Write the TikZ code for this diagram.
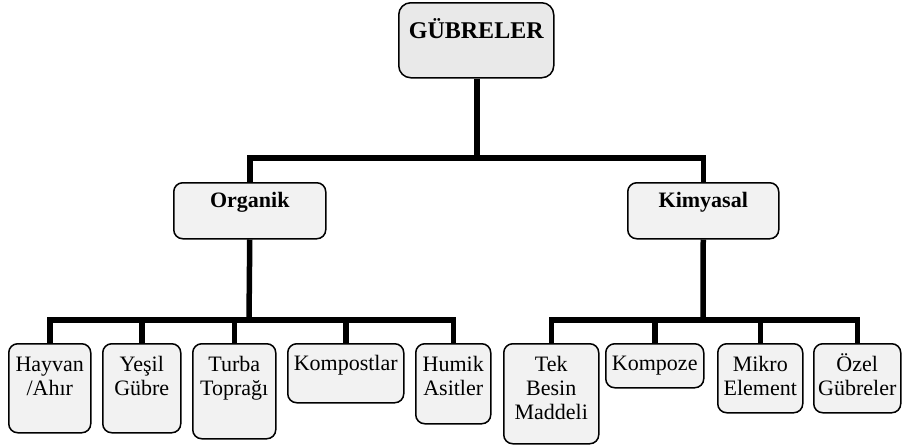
\documentclass[tikz,border=0pt]{standalone}
\usepackage{fontspec}
\setmainfont{Liberation Serif}
\newcommand{\bxtext}[4]{\parbox[c][#2pt][t]{#1pt}{\centering\rule{0pt}{#3pt}#4}}
\tikzset{
  box/.style={draw=black, line width=1.5pt, fill=gray!10, rounded corners=9pt,
    inner sep=0pt, anchor=north west, font=\fontsize{22}{24}\selectfont},
  topbox/.style={box, fill=gray!17, rounded corners=12pt, font=\bfseries\fontsize{24}{26}\selectfont},
  midbox/.style={box, fill=gray!10, font=\bfseries\fontsize{22}{24}\selectfont},
  conn/.style={draw=black, line width=5.5pt, line join=miter}
}
\begin{document}
\begin{tikzpicture}[x=1pt,y=-1pt]
\useasboundingbox (0,0) rectangle (902,445);
% top
\node[topbox] (gub) at (398,2) {\bxtext{155}{75}{36}{GÜBRELER}};
% level 2
\node[midbox] (org) at (173,182) {\bxtext{152}{56}{25}{Organik}};
\node[midbox] (kim) at (627,182) {\bxtext{151}{56}{25}{Kimyasal}};
% organik children
\node[box] (hay) at (8,343) {\bxtext{82}{89}{28}{Hayvan\\/Ahır}};
\node[box] (yes) at (102,343) {\bxtext{78}{89}{28}{Yeşil\\Gübre}};
\node[box] (tur) at (192,343) {\bxtext{83}{95}{28}{Turba\\Toprağı}};
\node[box] (komp) at (287,343) {\bxtext{116}{59}{27}{Kompostlar}};
\node[box] (hum) at (415,343) {\bxtext{75}{80}{28}{Humik\\Asitler}};
% kimyasal children
\node[box] (tek) at (503,343) {\bxtext{95}{100}{28}{Tek\\Besin\\Maddeli}};
\node[box] (kpz) at (605,343) {\bxtext{98}{44}{27}{Kompoze}};
\node[box] (mik) at (717,343) {\bxtext{85}{69}{28}{Mikro\\Element}};
\node[box] (oze) at (813,343) {\bxtext{87}{69}{28}{Özel\\Gübreler}};
% connectors
\coordinate (b1) at (477,158);
\coordinate (b2) at (249,320);
\coordinate (b3) at (703,320);
\draw[conn] (gub.south -| b1) -- (b1);
\draw[conn] (org.north) |- (b1) -| (kim.north);
\draw[conn] (org.south) -- (b2);
\draw[conn] (hay.north) |- (b2) -| (hum.north);
\draw[conn] (yes.north) -- (yes.north |- b2);
\draw[conn] (tur.north) -- (tur.north |- b2);
\draw[conn] (komp.north) -- (komp.north |- b2);
\draw[conn] (kim.south) -- (b3);
\draw[conn] (tek.north) |- (b3) -| (oze.north);
\draw[conn] (kpz.north) -- (kpz.north |- b3);
\draw[conn] (mik.north) -- (mik.north |- b3);
\end{tikzpicture}
\end{document}
